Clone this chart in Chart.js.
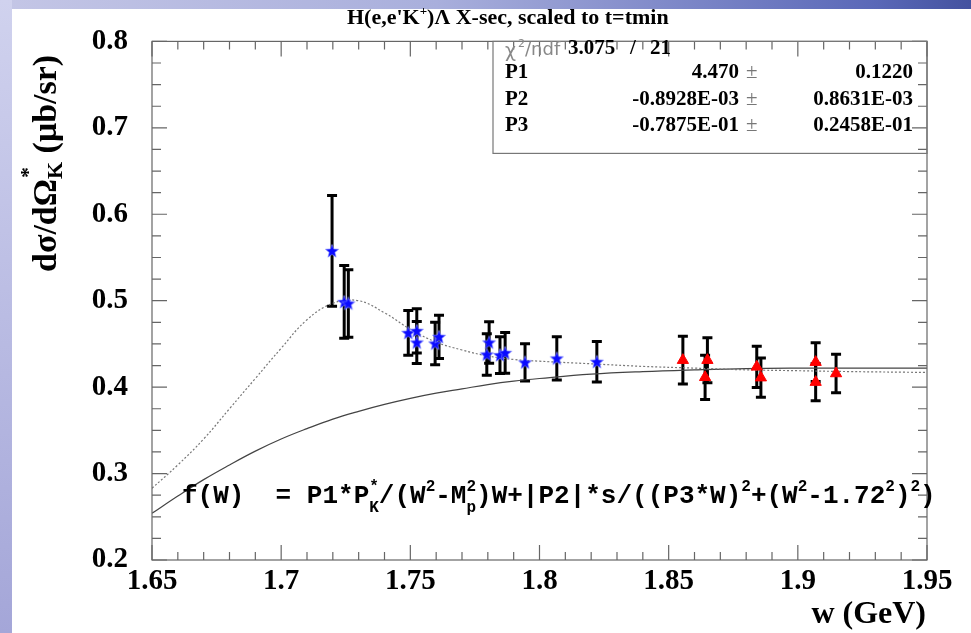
<!DOCTYPE html>
<html>
<head>
<meta charset="utf-8">
<script src="https://cdn.jsdelivr.net/npm/chart.js@4.4.1/dist/chart.umd.min.js"></script>
<style>
	html, body { margin: 0; padding: 0; }
	body {
		width: 971px; height: 633px; overflow: hidden; position: relative;
		background: linear-gradient(90deg, #c4c6e6 0%, #a9afdc 45%, #5a68b8 90%, #44529f 100%);
	}
	#strip {
		position: absolute; left: 0; top: 0; width: 12px; height: 633px;
		background: linear-gradient(180deg, #d0d2ee 0%, #a4a6d8 100%);
	}
	#panel { position: absolute; left: 12px; top: 9px; right: 0; bottom: 0; background: #fff; }
	#chart { position: absolute; left: 0; top: 0; }
</style>
</head>
<body>
<div id="strip"></div>
<div id="panel"></div>
<canvas id="chart" width="971" height="633"></canvas>
<script>
// blue stars (W, cross section, error)
const starW   = [1.7197, 1.7244, 1.7260, 1.7492, 1.7525, 1.7525, 1.7596, 1.7611, 1.7805, 1.7796, 1.7847, 1.7867, 1.7944, 1.8067, 1.8222];
const starXs  = [0.5576, 0.4986, 0.4968, 0.4628, 0.4651, 0.4517, 0.4505, 0.4582, 0.4517, 0.4378, 0.4370, 0.4397, 0.4286, 0.4332, 0.4293];
const starErr = [0.0640, 0.0420, 0.0390, 0.0260, 0.0256, 0.0243, 0.0247, 0.0250, 0.0240, 0.0240, 0.0212, 0.0235, 0.0216, 0.0250, 0.0235];

// red triangles
const triW   = [1.8555, 1.8650, 1.8641, 1.8841, 1.8857, 1.9069, 1.9069, 1.9148];
const triXs  = [0.4312, 0.4312, 0.4114, 0.4235, 0.4110, 0.4289, 0.4058, 0.4158];
const triErr = [0.0276, 0.0260, 0.0256, 0.0239, 0.0228, 0.0225, 0.0216, 0.0222];

// fit curves
const fitW    = [1.65, 1.66, 1.67, 1.68, 1.69, 1.70, 1.71, 1.72, 1.73, 1.74, 1.75, 1.76, 1.77, 1.78, 1.79, 1.80, 1.82, 1.84, 1.86, 1.88, 1.90, 1.92, 1.95];
const fitFull = [0.283, 0.310, 0.340, 0.375, 0.410, 0.445, 0.478, 0.497, 0.500, 0.486, 0.467, 0.452, 0.443, 0.436, 0.432, 0.430, 0.427, 0.424, 0.422, 0.420, 0.419, 0.418, 0.417];
const fitBack = [0.254, 0.274, 0.293, 0.310, 0.326, 0.340, 0.352, 0.363, 0.372, 0.380, 0.387, 0.393, 0.398, 0.403, 0.407, 0.410, 0.415, 0.418, 0.420, 0.4215, 0.422, 0.422, 0.422];

// axis ticks
const xTicks = [1.65, 1.7, 1.75, 1.8, 1.85, 1.9, 1.95];
const yTicks = [0.2, 0.3, 0.4, 0.5, 0.6, 0.7, 0.8];

// stats box rows
const statNames  = ['P1', 'P2', 'P3'];
const statValues = ['4.470', '-0.8928E-03', '-0.7875E-01'];
const statErrors = ['0.1220', '0.8631E-03', '0.2458E-01'];

const serif = '"Liberation Serif", "DejaVu Serif", serif';
const mono = '"Liberation Mono", "DejaVu Sans Mono", monospace';

let pts = function(xs, ys) {
	return xs.map(function(x, i) { return { x: x, y: ys[i] }; });
};

let starImg = (function() {
	let c = document.createElement('canvas'), ctx = c.getContext('2d');
	c.width = 16; c.height = 16;
	ctx.beginPath();
	for (let i = 0; i < 10; i++) {
		let r = i % 2 ? 3 : 7, a = -Math.PI / 2 + i * Math.PI / 5;
		ctx.lineTo(8 + r * Math.cos(a), 8.5 + r * Math.sin(a));
	}
	ctx.closePath();
	ctx.fillStyle = '#0a0aff';
	ctx.fill();
	ctx.strokeStyle = '#8a92ff';
	ctx.lineWidth = 0.6;
	ctx.stroke();
	return c;
})();

// error bars under the markers
let errorBars = {
	id: 'errorBars',
	beforeDatasetsDraw: function(chart) {
		let ctx = chart.ctx, xs = chart.scales.x, ys = chart.scales.y;
		let draw = function(w, v, e) {
			w.forEach(function(x, i) {
				let px = xs.getPixelForValue(x),
					top = ys.getPixelForValue(v[i] + e[i]),
					bot = ys.getPixelForValue(v[i] - e[i]);
				ctx.beginPath();
				ctx.moveTo(px, top); ctx.lineTo(px, bot);
				ctx.moveTo(px - 5, top); ctx.lineTo(px + 5, top);
				ctx.moveTo(px - 5, bot); ctx.lineTo(px + 5, bot);
				ctx.stroke();
			});
		};
		ctx.save();
		ctx.strokeStyle = '#000';
		ctx.lineWidth = 3;
		draw(starW, starXs, starErr);
		draw(triW, triXs, triErr);
		ctx.restore();
	}
};

// ROOT style frame, ticks, titles, stats box and formula
let decorations = {
	id: 'decorations',
	afterDraw: function(chart) {
		let ctx = chart.ctx, a = chart.chartArea, xs = chart.scales.x, ys = chart.scales.y;
		ctx.save();

		ctx.strokeStyle = '#666';
		ctx.lineWidth = 1.2;
		ctx.strokeRect(a.left, a.top, a.right - a.left, a.bottom - a.top);

		ctx.beginPath();
		for (let k = 0; k <= 30; k++) {
			let px = xs.getPixelForValue(1.65 + k * 0.01), len = k % 5 ? 8 : 15;
			ctx.moveTo(px, a.bottom); ctx.lineTo(px, a.bottom - len);
			ctx.moveTo(px, a.top); ctx.lineTo(px, a.top + len);
		}
		for (let k = 0; k <= 24; k++) {
			let py = ys.getPixelForValue(0.2 + k * 0.025), len = k % 4 ? 9 : 15;
			ctx.moveTo(a.left, py); ctx.lineTo(a.left + len, py);
			ctx.moveTo(a.right, py); ctx.lineTo(a.right - len, py);
		}
		ctx.stroke();

		ctx.fillStyle = '#000';
		ctx.textBaseline = 'alphabetic';

		// title
		ctx.font = 'bold 22px ' + serif;
		ctx.textAlign = 'left';
		let tx = 347, ty = 24;
		ctx.fillText("H(e,e'K", tx, ty);
		tx += ctx.measureText("H(e,e'K").width;
		ctx.font = 'bold 13px ' + serif;
		ctx.fillText('+', tx, ty - 9);
		tx += ctx.measureText('+').width;
		ctx.font = 'bold 22px ' + serif;
		ctx.fillText(')Λ X-sec, scaled to t=tmin', tx, ty);

		// x title
		ctx.font = 'bold 32px ' + serif;
		ctx.textAlign = 'right';
		ctx.fillText('w (GeV)', 926, 623);

		// y title
		ctx.save();
		ctx.translate(56, 272);
		ctx.rotate(-Math.PI / 2);
		ctx.textAlign = 'left';
		ctx.font = 'bold 34px ' + serif;
		let yx = 0;
		ctx.fillText('dσ/dΩ', yx, 0);
		yx += ctx.measureText('dσ/dΩ').width;
		ctx.font = 'bold 22px ' + serif;
		ctx.fillText('*', yx + 1, -21);
		ctx.fillText('K', yx, 6);
		yx += ctx.measureText('K').width;
		ctx.font = 'bold 34px ' + serif;
		ctx.fillText(' (μb/sr)', yx, 0);
		ctx.restore();

		// stats box
		ctx.strokeStyle = '#777';
		ctx.lineWidth = 1.2;
		ctx.strokeRect(493, a.top, a.right - 493, 112);
		ctx.fillStyle = '#888';
		ctx.textAlign = 'left';
		ctx.font = '19px "DejaVu Sans", sans-serif';
		ctx.fillText('χ', 505, 57);
		ctx.font = '11px "DejaVu Sans", sans-serif';
		ctx.fillText('2', 518, 47);
		ctx.font = '18px "DejaVu Sans", sans-serif';
		ctx.fillText('/ndf', 525, 55);
		ctx.fillStyle = '#000';
		ctx.font = 'bold 21px ' + serif;
		ctx.fillText('3.075', 568, 54);
		ctx.fillText('/', 630, 54);
		ctx.fillText('21', 650, 54);
		statNames.forEach(function(n, i) {
			let y = 78 + i * 26.5;
			ctx.font = 'bold 21px ' + serif;
			ctx.textAlign = 'left';
			ctx.fillText(n, 505, y);
			ctx.textAlign = 'right';
			ctx.fillText(statValues[i], 739, y);
			ctx.fillText(statErrors[i], 913, y);
			ctx.font = '21px ' + serif;
			ctx.fillStyle = '#777';
			ctx.textAlign = 'left';
			ctx.fillText('±', 746, y);
			ctx.fillStyle = '#000';
		});

		// fit formula
		let fx = 182, fy = 503, big = 'bold 26px ' + mono, small = 'bold 16px ' + mono;
		let put = function(s, font, dy) {
			ctx.font = font;
			ctx.fillText(s, fx, fy + dy);
			fx += ctx.measureText(s).width;
		};
		let stack = function(sup, sub) {
			ctx.font = small;
			ctx.fillText(sup, fx, fy - 12);
			ctx.fillText(sub, fx, fy + 9);
			fx += Math.max(ctx.measureText(sup).width, ctx.measureText(sub).width);
		};
		ctx.textAlign = 'left';
		put('f(W)  = P1*P', big, 0);
		stack('*', 'K');
		put('/(W', big, 0);
		put('2', small, -12);
		put('-M', big, 0);
		stack('2', 'p');
		put(')W+|P2|*s/((P3*W)', big, 0);
		put('2', small, -12);
		put('+(W', big, 0);
		put('2', small, -12);
		put('-1.72', big, 0);
		put('2', small, -12);
		put(')', big, 0);
		put('2', small, -12);
		put(')', big, 0);

		ctx.restore();
	}
};

new Chart(document.getElementById('chart'), {
	type: 'scatter',
	data: {
		datasets: [
			{
				data: pts(starW, starXs),
				pointStyle: starImg,
				pointRadius: 8
			},
			{
				data: pts(triW, triXs),
				pointStyle: 'triangle',
				pointRadius: 6.5,
				backgroundColor: '#ff0000',
				borderColor: '#ff0000',
				borderWidth: 1
			},
			{
				data: pts(fitW, fitFull),
				showLine: true,
				pointRadius: 0,
				tension: 0.4,
				borderColor: '#777',
				borderWidth: 1.2,
				borderDash: [2, 2]
			},
			{
				data: pts(fitW, fitBack),
				showLine: true,
				pointRadius: 0,
				tension: 0.4,
				borderColor: '#444',
				borderWidth: 1.2
			}
		]
	},
	options: {
		responsive: false,
		animation: false,
		devicePixelRatio: 1,
		layout: { padding: { top: 41, right: 44, left: 0, bottom: 0 } },
		plugins: {
			legend: { display: false },
			tooltip: { enabled: false }
		},
		scales: {
			x: {
				type: 'linear',
				min: 1.65,
				max: 1.95,
				afterFit: function(scale) { scale.height = 73; },
				afterBuildTicks: function(scale) {
					scale.ticks = xTicks.map(function(v) { return { value: v }; });
				},
				grid: { display: false, drawTicks: false, tickLength: 0 },
				border: { display: false },
				ticks: {
					padding: 4,
					maxRotation: 0,
					color: '#000',
					font: { family: serif, weight: 'bold', size: 29 },
					callback: function(v) { return String(parseFloat(v.toFixed(2))); }
				}
			},
			y: {
				type: 'linear',
				min: 0.2,
				max: 0.8,
				afterFit: function(scale) { scale.width = 152; },
				afterBuildTicks: function(scale) {
					scale.ticks = yTicks.map(function(v) { return { value: v }; });
				},
				grid: { display: false, drawTicks: false, tickLength: 0 },
				border: { display: false },
				ticks: {
					padding: 24,
					color: '#000',
					font: { family: serif, weight: 'bold', size: 29 },
					callback: function(v) { return String(parseFloat(v.toFixed(1))); }
				}
			}
		}
	},
	plugins: [errorBars, decorations]
});
</script>
</body>
</html>
